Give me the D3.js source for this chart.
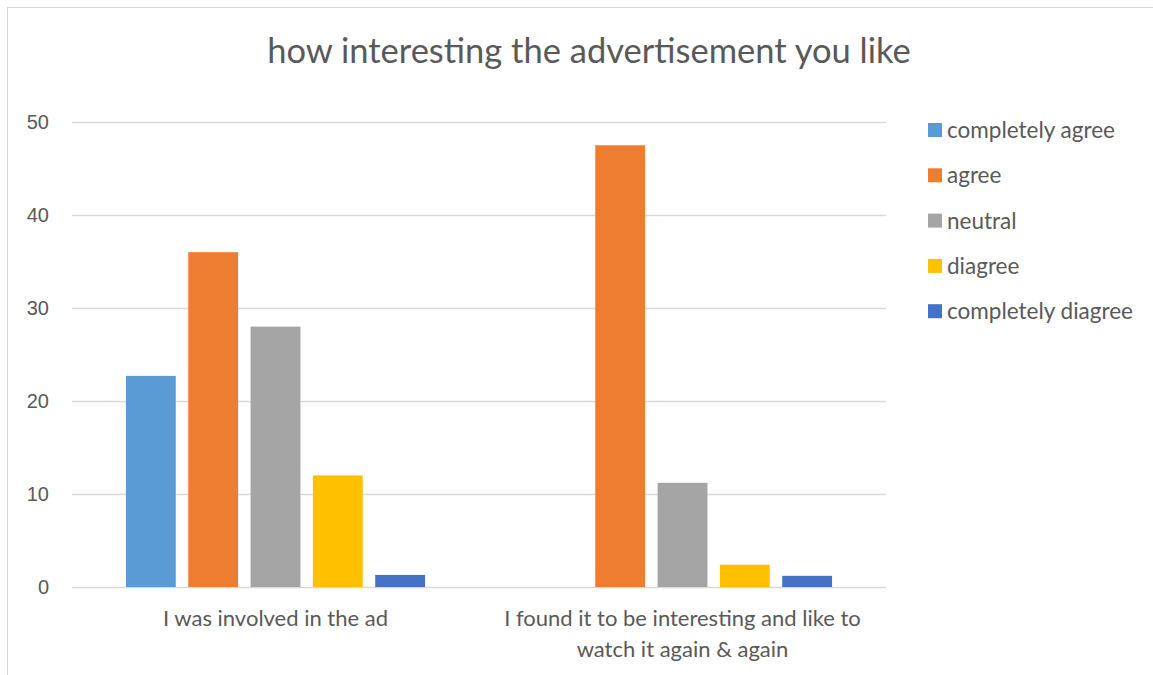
<!DOCTYPE html>
<html>
<head>
<meta charset="utf-8">
<script src="https://cdn.jsdelivr.net/npm/d3@7"></script>
<style>
  html, body { margin: 0; padding: 0; background: #fff; }
  svg { display: block; font-family: "Lato", "Open Sans", sans-serif; }
</style>
</head>
<body>
<svg id="chart" width="1153" height="675"></svg>
<script>
// Survey responses per statement
const categories = [
  ["I was involved in the ad"],
  ["I found it to be interesting and like to", "watch it again & again"]
];
const seriesNames = ["completely agree", "agree", "neutral", "diagree", "completely diagree"];
const seriesColors = ["#5b9bd5", "#ed7d31", "#a5a5a5", "#ffc000", "#4472c4"];
const completelyAgree = [22.7, 0];
const agree = [36.0, 47.5];
const neutral = [28.0, 11.2];
const disagree = [12.0, 2.4];
const completelyDisagree = [1.3, 1.2];
const yTicks = [0, 10, 20, 30, 40, 50];
const titleText = "how interesting the advertisement you like";

const seriesValues = [completelyAgree, agree, neutral, disagree, completelyDisagree];

const svg = d3.select("#chart");
const textColor = "#595959";

// chart frame
svg.append("rect")
  .attr("x", 7.5).attr("y", 7.5)
  .attr("width", 1160).attr("height", 700)
  .attr("fill", "#fff").attr("stroke", "#d9d9d9").attr("stroke-width", 1);

const plot = { left: 72, right: 886, top: 122, bottom: 587 };

const x0 = d3.scaleBand()
  .domain(d3.range(categories.length))
  .range([plot.left, plot.right])
  .paddingInner(0.265).paddingOuter(0.1325);

const x1 = d3.scaleBand()
  .domain(d3.range(seriesNames.length))
  .range([0, x0.bandwidth()])
  .paddingInner(0.2);

const y = d3.scaleLinear().domain([0, 50]).range([plot.bottom, plot.top]);

// gridlines and value axis labels
const yAxis = d3.axisLeft(y)
  .tickValues(yTicks)
  .tickSize(-(plot.right - plot.left))
  .tickPadding(23);
const gy = svg.append("g")
  .attr("transform", `translate(${plot.left},0)`)
  .call(yAxis);
gy.select(".domain").remove();
gy.selectAll(".tick line").attr("stroke", "#d9d9d9").attr("stroke-width", 1.5);
gy.selectAll(".tick text")
  .attr("fill", textColor)
  .style("font-size", "20px");

// bars
const groups = svg.append("g").selectAll("g")
  .data(categories.map((c, i) => i))
  .join("g")
  .attr("transform", i => `translate(${x0(i)},0)`);

groups.selectAll("rect")
  .data(i => seriesValues.map((vals, s) => ({ s, v: vals[i] })))
  .join("rect")
  .filter(d => d.v > 0)
  .attr("x", d => x1(d.s))
  .attr("width", x1.bandwidth())
  .attr("y", d => y(d.v))
  .attr("height", d => y(0) - y(d.v))
  .attr("fill", d => seriesColors[d.s]);

// category labels
const catLabels = svg.append("g");
categories.forEach((lines, i) => {
  const cx = x0(i) + x0.bandwidth() / 2;
  const t = catLabels.append("text")
    .attr("x", cx)
    .attr("y", 626)
    .attr("text-anchor", "middle")
    .attr("fill", textColor)
    .style("font-size", "22px");
  lines.forEach((ln, k) => {
    t.append("tspan")
      .attr("x", cx)
      .attr("dy", k === 0 ? 0 : 31)
      .text(ln);
  });
});

// title
svg.append("text")
  .attr("x", 589).attr("y", 63)
  .attr("text-anchor", "middle")
  .attr("fill", textColor)
  .style("font-size", "34.5px")
  .text(titleText);

// legend
const legend = svg.append("g").attr("transform", "translate(928,123)");
const rows = legend.selectAll("g")
  .data(seriesNames)
  .join("g")
  .attr("transform", (d, i) => `translate(0,${i * 45.3})`);
rows.append("rect")
  .attr("width", 14).attr("height", 14)
  .attr("fill", (d, i) => seriesColors[i]);
rows.append("text")
  .attr("x", 19).attr("y", 15)
  .attr("fill", textColor)
  .style("font-size", "22.5px")
  .text(d => d);
</script>
</body>
</html>
